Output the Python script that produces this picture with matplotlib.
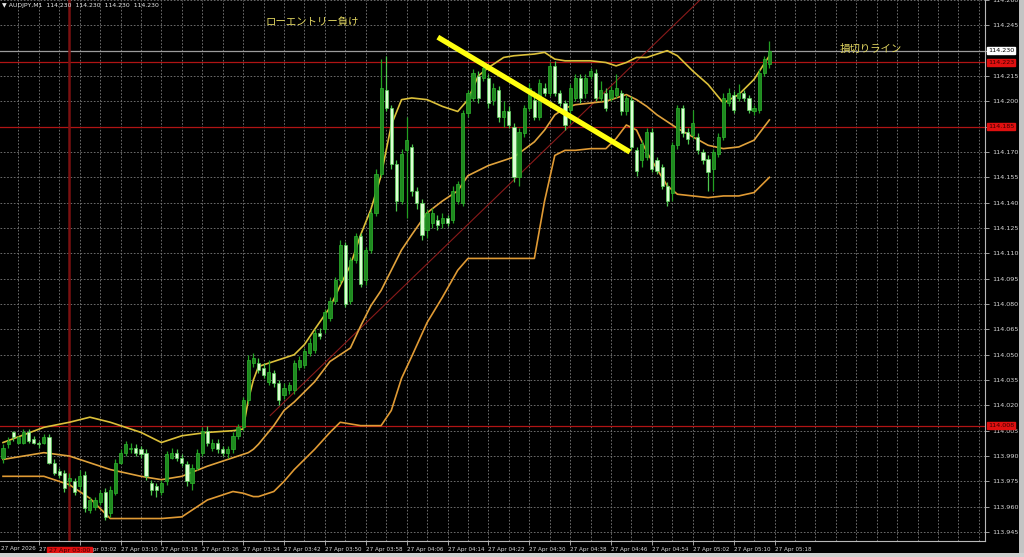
import matplotlib
matplotlib.use("Agg")
import matplotlib.pyplot as plt
from matplotlib.patches import Rectangle

# ---------------- data ----------------
symbol_info = "\u25bc AUDJPY,M1  114.230  114.230  114.230  114.230"
first_time_label = "27 Apr 2026"
tick_bars = [7, 15, 23, 31, 39, 47, 55, 63, 71, 79, 87, 95, 103, 111, 119, 127, 135, 143, 151]
tick_labels = ["27 Apr 02:54", "27 Apr 03:02", "27 Apr 03:10", "27 Apr 03:18", "27 Apr 03:26",
               "27 Apr 03:34", "27 Apr 03:42", "27 Apr 03:50", "27 Apr 03:58", "27 Apr 04:06",
               "27 Apr 04:14", "27 Apr 04:22", "27 Apr 04:30", "27 Apr 04:38", "27 Apr 04:46",
               "27 Apr 04:54", "27 Apr 05:02", "27 Apr 05:10", "27 Apr 05:18"]

opens = [
    113.989, 113.997, 114.004, 113.998, 113.998, 114.004, 114.000, 113.998, 113.998, 114.001,
    113.986, 113.981, 113.980, 113.975, 113.975, 113.972, 113.979, 113.958, 113.960, 113.963,
    113.969, 113.956, 113.968, 113.986, 113.992, 113.994, 113.995, 113.994, 113.992, 113.974,
    113.972, 113.969, 113.975, 113.989, 113.992, 113.989, 113.985, 113.974, 113.983, 113.992,
    114.005, 113.995, 113.998, 113.994, 113.992, 113.994, 114.002, 114.007, 114.023, 114.045,
    114.045, 114.042, 114.034, 114.039, 114.033, 114.026, 114.029, 114.029, 114.043, 114.044,
    114.051, 114.053, 114.063, 114.065, 114.072, 114.082, 114.094, 114.115, 114.082, 114.106,
    114.120, 114.094, 114.112, 114.134, 114.157, 114.207, 114.196, 114.163, 114.141, 114.171,
    114.173, 114.147, 114.140, 114.124, 114.128, 114.130, 114.128, 114.131, 114.130, 114.141,
    114.140, 114.193, 114.202, 114.215, 114.214, 114.214, 114.201, 114.207, 114.191, 114.194,
    114.185, 114.155, 114.181, 114.196, 114.201, 114.191, 114.208, 114.205, 114.221, 114.205,
    114.199, 114.195, 114.202, 114.214, 114.205, 114.215, 114.217, 114.202, 114.205, 114.202,
    114.204, 114.205, 114.194, 114.201, 114.171, 114.165, 114.167, 114.182, 114.165, 114.161,
    114.150, 114.146, 114.174, 114.196, 114.182, 114.180, 114.179, 114.170, 114.166, 114.160,
    114.169, 114.179, 114.199, 114.204, 114.202, 114.205, 114.202, 114.194, 114.195, 114.217,
    114.222]
highs = [
    113.997, 114.001, 114.005, 114.002, 114.006, 114.006, 114.002, 113.999, 114.003, 114.003,
    113.988, 113.983, 113.982, 113.980, 113.977, 113.982, 113.981, 113.966, 113.966, 113.970,
    113.971, 113.972, 113.988, 113.994, 113.999, 113.998, 113.997, 113.996, 113.994, 113.976,
    113.974, 113.976, 113.993, 113.995, 113.994, 113.991, 113.987, 113.985, 113.994, 114.007,
    114.008, 114.000, 114.000, 113.996, 113.996, 114.004, 114.009, 114.025, 114.050, 114.051,
    114.048, 114.045, 114.047, 114.041, 114.035, 114.033, 114.034, 114.047, 114.049, 114.054,
    114.060, 114.065, 114.066, 114.077, 114.084, 114.096, 114.118, 114.117, 114.108, 114.122,
    114.122, 114.114, 114.136, 114.160, 114.225, 114.227, 114.198, 114.165, 114.172, 114.191,
    114.175, 114.149, 114.142, 114.136, 114.137, 114.133, 114.134, 114.133, 114.150, 114.153,
    114.195, 114.207, 114.219, 114.218, 114.224, 114.216, 114.211, 114.209, 114.200, 114.197,
    114.187, 114.184, 114.198, 114.211, 114.206, 114.213, 114.211, 114.223, 114.224, 114.207,
    114.201, 114.210, 114.216, 114.216, 114.216, 114.220, 114.219, 114.212, 114.208, 114.209,
    114.216, 114.207, 114.204, 114.203, 114.173, 114.177, 114.184, 114.184, 114.167, 114.163,
    114.152, 114.176, 114.198, 114.198, 114.184, 114.195, 114.181, 114.172, 114.168, 114.172,
    114.181, 114.205, 114.208, 114.206, 114.210, 114.207, 114.204, 114.198, 114.219, 114.227,
    114.236]
lows = [
    113.986, 113.995, 113.999, 113.997, 113.997, 113.998, 113.997, 113.995, 113.997, 113.985,
    113.979, 113.977, 113.969, 113.972, 113.967, 113.970, 113.957, 113.956, 113.958, 113.961,
    113.952, 113.954, 113.967, 113.985, 113.990, 113.992, 113.990, 113.989, 113.976, 113.967,
    113.966, 113.967, 113.973, 113.988, 113.987, 113.984, 113.972, 113.970, 113.982, 113.990,
    113.996, 113.993, 113.992, 113.990, 113.989, 113.992, 114.000, 114.005, 114.021, 114.043,
    114.039, 114.036, 114.032, 114.031, 114.020, 114.024, 114.027, 114.027, 114.041, 114.042,
    114.049, 114.051, 114.059, 114.063, 114.070, 114.080, 114.092, 114.078, 114.080, 114.104,
    114.090, 114.091, 114.110, 114.132, 114.155, 114.194, 114.160, 114.135, 114.139, 114.131,
    114.144, 114.136, 114.118, 114.119, 114.125, 114.124, 114.125, 114.126, 114.128, 114.139,
    114.138, 114.191, 114.200, 114.199, 114.212, 114.196, 114.198, 114.188, 114.185, 114.184,
    114.152, 114.150, 114.179, 114.194, 114.189, 114.189, 114.203, 114.203, 114.203, 114.197,
    114.183, 114.187, 114.200, 114.199, 114.202, 114.213, 114.200, 114.200, 114.194, 114.200,
    114.202, 114.192, 114.192, 114.171, 114.156, 114.161, 114.165, 114.158, 114.157, 114.148,
    114.138, 114.141, 114.172, 114.179, 114.175, 114.178, 114.169, 114.163, 114.147, 114.147,
    114.167, 114.177, 114.197, 114.193, 114.200, 114.200, 114.193, 114.192, 114.193, 114.215,
    114.220]
closes = [
    113.995, 113.999, 114.001, 114.001, 114.004, 113.999, 113.998, 113.997, 114.001, 113.986,
    113.980, 113.979, 113.971, 113.977, 113.969, 113.978, 113.959, 113.964, 113.964, 113.968,
    113.954, 113.970, 113.986, 113.992, 113.997, 113.995, 113.992, 113.991, 113.978, 113.970,
    113.970, 113.974, 113.991, 113.992, 113.989, 113.986, 113.975, 113.983, 113.992, 114.005,
    113.998, 113.998, 113.994, 113.992, 113.994, 114.002, 114.007, 114.023, 114.047, 114.048,
    114.041, 114.038, 114.040, 114.033, 114.023, 114.030, 114.032, 114.045, 114.047, 114.052,
    114.057, 114.063, 114.061, 114.075, 114.082, 114.094, 114.115, 114.080, 114.106, 114.120,
    114.092, 114.112, 114.134, 114.157, 114.208, 114.196, 114.163, 114.141, 114.169, 114.177,
    114.147, 114.140, 114.121, 114.134, 114.134, 114.127, 114.131, 114.128, 114.147, 114.151,
    114.193, 114.205, 114.217, 114.202, 114.220, 114.199, 114.208, 114.191, 114.194, 114.186,
    114.155, 114.182, 114.196, 114.208, 114.191, 114.211, 114.205, 114.221, 114.205, 114.199,
    114.186, 114.208, 114.214, 114.202, 114.214, 114.218, 114.202, 114.207, 114.196, 114.207,
    114.208, 114.194, 114.202, 114.173, 114.159, 114.175, 114.182, 114.160, 114.159, 114.150,
    114.141, 114.174, 114.196, 114.181, 114.178, 114.187, 114.171, 114.165, 114.158, 114.170,
    114.179, 114.202, 114.205, 114.195, 114.205, 114.202, 114.195, 114.196, 114.217, 114.225,
    114.230]

band_bars = [0, 8, 13, 17, 21, 27, 31, 35, 40, 45, 47, 48, 49, 50, 53, 55, 57, 59, 61, 64,
             66, 68, 70, 72, 74, 76, 78, 80, 83, 86, 89, 91, 93, 95, 98, 100, 104, 106, 108, 110,
             112, 115, 118, 120, 122, 124, 126, 128, 130, 132, 135, 138, 141, 144, 147, 150]
band_upper = [113.998, 114.007, 114.010, 114.013, 114.010, 114.004, 113.998, 114.002, 114.004, 114.005,
              114.006, 114.023, 114.035, 114.043, 114.046, 114.048, 114.050, 114.056, 114.065, 114.078,
              114.091, 114.103, 114.121, 114.136, 114.156, 114.186, 114.201, 114.202, 114.201, 114.197,
              114.194, 114.201, 114.215, 114.220, 114.226, 114.227, 114.228, 114.229, 114.225, 114.224,
              114.224, 114.224, 114.223, 114.221, 114.223, 114.226, 114.226, 114.228, 114.230, 114.227,
              114.218, 114.210, 114.199, 114.204, 114.213, 114.227]
band_middle = [113.988, 113.992, 113.990, 113.986, 113.982, 113.978, 113.976, 113.978, 113.984, 113.989,
               113.991, 113.992, 113.994, 113.997, 114.008, 114.017, 114.022, 114.028, 114.034, 114.046,
               114.050, 114.054, 114.067, 114.079, 114.088, 114.100, 114.112, 114.121, 114.134, 114.141,
               114.147, 114.156, 114.159, 114.162, 114.165, 114.167, 114.176, 114.183, 114.192, 114.196,
               114.198, 114.199, 114.200, 114.202, 114.204, 114.201, 114.197, 114.192, 114.188, 114.184,
               114.179, 114.174, 114.172, 114.173, 114.177, 114.189]
band_lower = [113.978, 113.978, 113.973, 113.965, 113.953, 113.953, 113.953, 113.954, 113.964, 113.969,
              113.968, 113.967, 113.966, 113.966, 113.969, 113.975, 113.982, 113.988, 113.994, 114.004,
              114.010, 114.009, 114.008, 114.008, 114.008, 114.017, 114.036, 114.049, 114.069, 114.084,
              114.100, 114.107, 114.107, 114.107, 114.107, 114.107, 114.107, 114.141, 114.168, 114.171,
              114.171, 114.172, 114.172, 114.178, 114.186, 114.183, 114.170, 114.160, 114.150, 114.145,
              114.144, 114.143, 114.144, 114.144, 114.146, 114.155]

bid_price = 114.230
red_levels = [114.223, 114.185, 114.008]
red_level_labels = ["114.223", "114.185", "114.008"]
vline_bar = 13
vline_label = "27 Apr 03:00"
trend_start = (52.3, 114.014)
trend_end = (140.0, 114.2705)
yellow_start = (85.1, 114.238)
yellow_end = (122.7, 114.170)
note1 = "ローエントリー負け"
note1_pos = (51.3, 114.247)
note2 = "損切りライン"
note2_pos = (163.8, 114.231)
y_ticks = [113.945 + 0.015 * k for k in range(22)]

# ---------------- figure ----------------
W, H = 1024, 557
fig = plt.figure(figsize=(W / 100, H / 100), dpi=100, facecolor="black")
ax = fig.add_axes([0, 16 / H, 985 / W, 541 / H], facecolor="black")
ax.set_xlim(-0.59, 192.2)
ax.set_ylim(113.9397, 114.2598)

# grid
grid_kw = dict(color="#7c7c7c", lw=0.6, ls=(0, (2, 2)), zorder=0)
for k in range(48):
    ax.axvline(3 + 4 * k, **grid_kw)
for yv in y_ticks:
    ax.axhline(yv, **grid_kw)

# horizontal reference lines
ax.axhline(bid_price, color="#9c9c9c", lw=0.9, zorder=1)
for lv in red_levels:
    ax.axhline(lv, color="#b01414", lw=0.9, zorder=1)
ax.axvline(vline_bar, color="#7a1010", lw=1.8, zorder=1)

# trend line (thin dark red)
ax.plot([trend_start[0], trend_end[0]], [trend_start[1], trend_end[1]],
        color="#8a1a1a", lw=0.8, zorder=2)

# bollinger bands
ax.plot(band_bars, band_upper, color="#dcc03a", lw=1.2, zorder=3)
ax.plot(band_bars, band_middle, color="#e0a23c", lw=1.2, zorder=3)
ax.plot(band_bars, band_lower, color="#e09a34", lw=1.2, zorder=3)

# candles
idx = list(range(len(closes)))
bull = [c >= o for o, c in zip(opens, closes)]
ax.vlines(idx, lows, highs, colors=["#22a022" if b else "#4ec84e" for b in bull], lw=0.9, zorder=4)
bottoms = [min(o, c) for o, c in zip(opens, closes)]
heights = [max(abs(c - o), 0.0007) for o, c in zip(opens, closes)]
ax.bar(idx, heights, bottom=bottoms, width=0.62,
       color=["#1f8a1f" if b else "#dcffd4" for b in bull],
       edgecolor=["#2fb52f" if b else "#5cd05c" for b in bull], linewidth=0.5, zorder=5)

# yellow thick line
ax.plot([yellow_start[0], yellow_end[0]], [yellow_start[1], yellow_end[1]],
        color="#ffff10", lw=3.8, solid_capstyle="butt", zorder=6)

# notes
jp = ["Noto Sans CJK JP", "DejaVu Sans"]
ax.text(note1_pos[0], note1_pos[1], note1, color="#e2d660", fontsize=7.5, family=jp,
        ha="left", va="center", zorder=7)
ax.text(note2_pos[0], note2_pos[1], note2, color="#e2d660", fontsize=7.5, family=jp,
        ha="left", va="center", zorder=7)

# spines / ticks
for s in ["top", "left"]:
    ax.spines[s].set_visible(False)
for s in ["right", "bottom"]:
    ax.spines[s].set_color("#b8b8b8")
    ax.spines[s].set_linewidth(0.8)

covered = {f"{bid_price:.3f}", "114.185"}
ax.yaxis.tick_right()
ax.set_yticks(y_ticks)
ax.set_yticklabels(["" if f"{v:.3f}" in covered else f"{v:.3f}" for v in y_ticks])
ax.tick_params(axis="y", colors="#b8b8b8", labelcolor="#d8d8d8", labelsize=4.6,
               length=3, width=0.6, pad=2)
ax.set_xticks(tick_bars)
ax.set_xticklabels(tick_labels, ha="left")
ax.tick_params(axis="x", colors="#b8b8b8", labelcolor="#d8d8d8", labelsize=4.1,
               length=3, width=0.6, pad=1.5)

# header and first date label
fig.text(2 / W, 1 - 6 / H, symbol_info, color="#e8e8e8", fontsize=4.4,
         ha="left", va="center", family=["DejaVu Sans"])
ax.text(0.001, -0.0135, first_time_label, transform=ax.transAxes, color="#d8d8d8",
        fontsize=4.1, ha="left", va="center")

# price boxes on the right axis
ax.annotate(f"{bid_price:.3f}", xy=(1.0, bid_price), xycoords=("axes fraction", "data"),
            xytext=(2, 0), textcoords="offset points", fontsize=4.6, color="black",
            va="center", ha="left",
            bbox=dict(boxstyle="square,pad=0.12", fc="white", ec="white"), zorder=10,
            annotation_clip=False)
for lv, lt in zip(red_levels, red_level_labels):
    ax.annotate(lt, xy=(1.0, lv), xycoords=("axes fraction", "data"),
                xytext=(2, 0), textcoords="offset points", fontsize=4.6, color="#3a0000",
                va="center", ha="left",
                bbox=dict(boxstyle="square,pad=0.12", fc="#e01010", ec="#e01010"), zorder=10,
                annotation_clip=False)

# red time label for the vertical line
ax.annotate(vline_label, xy=(vline_bar, 0), xycoords=("data", "axes fraction"),
            xytext=(0, -7), textcoords="offset points", fontsize=4.6, color="#3a0000",
            ha="center", va="center",
            bbox=dict(boxstyle="square,pad=0.25", fc="#e01010", ec="#e01010"), zorder=10,
            annotation_clip=False)

# window edges (gray)
fig.patches.append(Rectangle((1019 / W, 0), 5 / W, 1, transform=fig.transFigure,
                             fc="#c4c4c4", ec="none"))
fig.patches.append(Rectangle((0, 0), 1, 4 / H, transform=fig.transFigure,
                             fc="#cfcfcf", ec="none"))

fig.savefig("out.png", dpi=100, facecolor="black")
